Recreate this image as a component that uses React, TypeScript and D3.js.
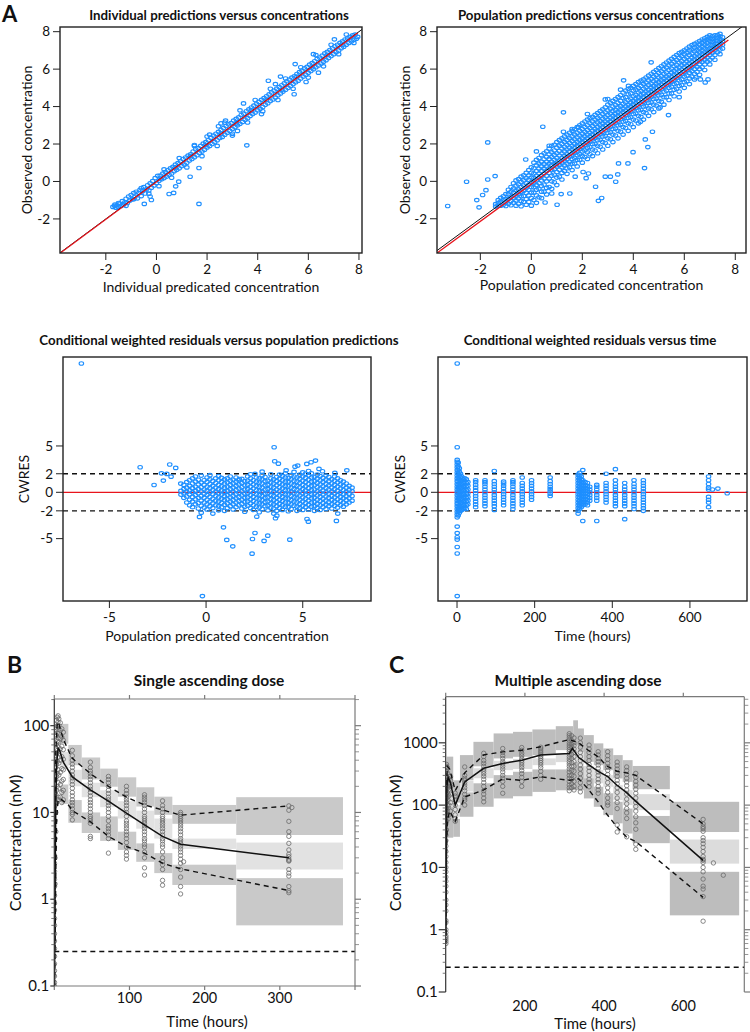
import React from 'react';
import * as d3 from 'd3';

type Pair = [number, number];
type Strip = [number, number[]];

// ---------------- DATA ----------------
// A1: individual predictions (x) vs observed (y)
const ipredVsDv: Pair[] = [
  [-1.72,-1.36],[-1.66,-1.3],[-1.6,-1.4],[-1.55,-1.27],[-1.5,-1.36],[-1.45,-1.18],[-1.4,-1.31],[-1.35,-1.05],[-1.3,-1.24],[-1.25,-1.12],
  [-1.2,-0.92],[-1.15,-1.15],[-1.1,-0.8],[-1.05,-1.02],[-1.0,-0.72],[-0.95,-0.95],[-0.9,-0.62],[-0.86,-0.84],[-0.8,-0.55],[-0.75,-0.9],
  [-0.7,-0.62],[-0.65,-0.45],[-0.6,-0.78],[-0.55,-0.52],[-0.5,-0.3],[-0.45,-0.64],[-0.4,-0.42],[-0.35,-0.2],[-0.3,-0.48],[-0.25,-0.1],
  [-0.2,-0.33],[-0.15,0.02],[-0.1,-0.22],[-0.05,0.18],[0,-0.08],[0.05,0.3],[0.1,0.04],[0.15,0.32],[0.2,0.12],[0.25,0.42],
  [0.3,0.18],[0.35,0.5],[0.4,0.26],[0.45,0.6],[0.5,0.36],[0.55,0.7],[0.6,0.42],[0.65,0.78],[0.7,0.55],[0.75,0.9],
  [0.8,0.62],[0.85,0.98],[0.9,0.7],[0.95,1.08],[1.0,0.82],[1.05,1.2],[1.1,0.9],[1.15,1.28],[1.2,1.0],[1.25,1.38],
  [1.3,1.12],[1.35,1.45],[1.4,1.2],[1.45,1.6],[1.5,1.3],[1.55,1.72],[1.6,1.4],[1.65,1.78],[1.7,1.52],[1.75,1.9],
  [1.8,1.6],[1.85,2.02],[1.9,1.7],[1.95,2.1],[2.0,1.82],[2.05,2.2],[2.1,1.9],[2.15,2.34],[2.2,2.0],[2.25,2.45],
  [2.3,2.1],[2.35,2.55],[2.4,2.2],[2.45,2.65],[2.5,2.32],[2.55,2.75],[2.6,2.38],[2.65,2.85],[2.7,2.5],[2.75,2.96],
  [2.8,2.6],[2.85,3.05],[2.9,2.7],[2.95,3.12],[3.0,2.8],[3.05,3.25],[3.1,2.9],[3.15,3.34],[3.2,3.0],[3.25,3.42],
  [3.3,3.08],[3.35,3.55],[3.4,3.18],[3.45,3.62],[3.5,3.3],[3.55,3.75],[3.6,3.38],[3.65,3.85],[3.7,3.5],[3.75,3.95],
  [3.8,3.6],[3.85,4.05],[3.9,3.68],[3.95,4.15],[4.0,3.8],[4.05,4.25],[4.1,3.88],[4.15,4.36],[4.2,3.98],[4.25,4.45],
  [4.3,4.1],[4.35,4.55],[4.4,4.18],[4.45,4.65],[4.5,4.3],[4.55,4.75],[4.6,4.38],[4.65,4.85],[4.7,4.48],[4.75,4.95],
  [4.8,4.6],[4.85,5.04],[4.9,4.7],[4.95,5.14],[5.0,4.8],[5.05,5.24],[5.1,4.9],[5.15,5.35],[5.2,5.0],[5.25,5.44],
  [5.3,5.1],[5.35,5.55],[5.4,5.2],[5.45,5.62],[5.5,5.3],[5.55,5.74],[5.6,5.38],[5.65,5.84],[5.7,5.5],[5.75,5.92],
  [5.8,5.6],[5.85,6.04],[5.9,5.7],[5.95,6.12],[6.0,5.8],[6.05,6.24],[6.1,5.9],[6.15,6.32],[6.2,6.0],[6.25,6.42],
  [6.3,6.1],[6.35,6.55],[6.4,6.2],[6.45,6.62],[6.5,6.3],[6.55,6.72],[6.6,6.4],[6.65,6.84],[6.7,6.48],[6.75,6.92],
  [6.8,6.6],[6.85,7.02],[6.9,6.7],[6.95,7.1],[7.0,6.8],[7.05,7.22],[7.1,6.9],[7.15,7.3],[7.2,7.0],[7.25,7.4],
  [7.3,7.12],[7.35,7.48],[7.4,7.2],[7.45,7.58],[7.5,7.3],[7.55,7.64],[7.6,7.4],[7.65,7.72],[7.7,7.48],[7.75,7.8],
  [7.8,7.56],[7.85,7.84],[7.9,7.62],[7.95,7.72],
  [-1.5,-1.15],[-1.2,-1.3],[-0.9,-0.95],[-0.6,-0.35],[-0.3,-0.65],[0.1,-0.25],[0.3,0.65],[0.6,0.2],[0.9,1.25],[1.2,0.75],
  [1.5,1.9],[1.8,1.35],[2.1,2.5],[2.4,1.9],[2.7,3.15],[3.0,2.55],[3.3,3.8],[3.6,3.15],[3.9,4.35],[4.2,3.75],
  [4.5,4.95],[4.8,4.35],[5.1,5.5],[5.4,4.95],[5.7,6.1],[6.0,5.55],[6.3,6.75],[6.6,6.15],[6.9,7.3],[7.2,6.8],
  [7.5,7.85],[7.8,7.4],[2.55,2.55],[3.15,3.1],[3.75,3.8],[4.35,4.35],[4.95,4.9],[5.55,5.6],[6.15,6.1],[6.75,6.75],
  [1.35,1.35],[0.75,0.75],[0.15,0.15],[1.95,1.95],[7.35,7.3],
];
const ipredOutliers: Pair[] = [
  [1.68,-1.2],[3.57,1.93],[1.33,0.25],[1.68,0.72],[0.88,-0.01],[0.76,-0.26],[0.5,-0.67],[0.68,-0.61],[-0.2,-0.99],[-0.48,-1.2],
  [-0.25,-0.8],[5.44,4.66],[6.4,5.81],[4.42,5.38],[5.48,6.27],[2.73,3.25],[3.44,4.17],[4.15,3.6],[5.91,5.31],[-1.64,-1.24],
  [2.45,2.95],[2.55,3.1],[3.0,2.45],[4.7,5.2],[6.2,6.8],[7.03,7.59],[4.9,5.6],[3.2,2.7],[1.5,1.95],[2.0,2.4],
];

// A2: population predictions (x) vs observed (y), by prediction strip
const predStrips: Strip[] = [
  [-1.4,[-1.35,-1.22]],
  [-1.2,[-1.3,-1.08,-0.88]],
  [-1.0,[-1.32,-1.12,-0.95,-0.68]],
  [-0.8,[-1.28,-1.05,-0.82,-0.55,-0.3]],
  [-0.6,[-1.3,-1.02,-0.75,-0.48,-0.22,0.05]],
  [-0.4,[-1.33,-1.05,-0.8,-0.56,-0.3,-0.04,0.25]],
  [-0.2,[-1.25,-0.95,-0.62,-0.35,-0.1,0.16,0.45]],
  [0.0,[-1.3,-0.9,-0.6,-0.3,-0.05,0.2,0.46,0.75]],
  [0.2,[-1.15,-0.75,-0.45,-0.2,0.05,0.3,0.55,0.85,1.15]],
  [0.4,[-0.9,-0.55,-0.25,0.05,0.3,0.55,0.8,1.05,1.4]],
  [0.6,[-0.7,-0.35,0.0,0.3,0.55,0.8,1.05,1.3,1.6]],
  [0.8,[-0.4,0.0,0.3,0.6,0.85,1.05,1.3,1.55,1.9]],
  [1.0,[-0.2,0.2,0.5,0.8,1.0,1.25,1.5,1.8,2.1]],
  [1.2,[0.1,0.45,0.75,1.0,1.25,1.5,1.75,2.0,2.3]],
  [1.4,[0.4,0.7,0.95,1.2,1.45,1.7,1.95,2.2,2.5]],
  [1.6,[0.6,0.95,1.2,1.45,1.7,1.9,2.15,2.4,2.7]],
  [1.8,[0.8,1.15,1.4,1.65,1.9,2.1,2.35,2.6,2.9]],
  [2.0,[1.0,1.35,1.6,1.85,2.1,2.3,2.55,2.8,3.1]],
  [2.2,[1.2,1.55,1.8,2.05,2.3,2.5,2.75,3.0,3.3]],
  [2.4,[1.35,1.7,2.0,2.25,2.5,2.7,2.95,3.2,3.45]],
  [2.6,[1.5,1.9,2.2,2.45,2.7,2.9,3.15,3.4,3.65]],
  [2.8,[1.7,2.1,2.4,2.65,2.9,3.1,3.35,3.6,3.85]],
  [3.0,[1.9,2.3,2.6,2.85,3.1,3.3,3.55,3.8,4.1]],
  [3.2,[2.1,2.5,2.8,3.05,3.3,3.5,3.75,4.0,4.3]],
  [3.4,[2.3,2.7,3.0,3.25,3.5,3.7,3.95,4.2,4.5]],
  [3.6,[2.5,2.9,3.2,3.45,3.7,3.9,4.15,4.45,4.75]],
  [3.8,[2.7,3.1,3.4,3.65,3.9,4.1,4.35,4.65,4.95]],
  [4.0,[2.9,3.3,3.6,3.85,4.1,4.3,4.55,4.85,5.1]],
  [4.2,[3.1,3.5,3.8,4.05,4.3,4.5,4.75,5.0,5.3]],
  [4.4,[3.3,3.7,4.0,4.25,4.5,4.7,4.95,5.2,5.45]],
  [4.6,[3.5,3.9,4.2,4.45,4.7,4.9,5.15,5.4,5.65]],
  [4.8,[3.7,4.1,4.4,4.65,4.9,5.1,5.35,5.6,5.85]],
  [5.0,[3.9,4.3,4.6,4.85,5.1,5.3,5.55,5.8,6.05]],
  [5.2,[4.1,4.5,4.8,5.05,5.3,5.5,5.75,6.0,6.25]],
  [5.4,[4.35,4.7,5.0,5.25,5.5,5.7,5.95,6.2,6.45]],
  [5.6,[4.55,4.9,5.2,5.45,5.7,5.9,6.15,6.4,6.65]],
  [5.8,[4.8,5.1,5.4,5.65,5.9,6.1,6.35,6.6,6.85]],
  [6.0,[5.0,5.3,5.6,5.85,6.1,6.3,6.55,6.8,7.0]],
  [6.2,[5.2,5.5,5.8,6.05,6.3,6.5,6.75,7.0,7.2]],
  [6.4,[5.45,5.75,6.0,6.25,6.5,6.7,6.95,7.15,7.35]],
  [6.6,[5.7,6.0,6.25,6.45,6.7,6.9,7.1,7.3,7.5]],
  [6.8,[5.95,6.25,6.5,6.7,6.9,7.1,7.3,7.5,7.65]],
  [7.0,[6.25,6.5,6.75,6.95,7.1,7.3,7.5,7.65,7.8]],
  [7.2,[6.5,6.75,7.0,7.2,7.35,7.5,7.65,7.8]],
  [7.4,[6.8,7.05,7.25,7.45,7.6,7.75,7.88]],
  [-1.3,[-1.3,-1.15,-1.0]],
  [-1.1,[-1.25,-1.0,-0.8]],
  [-0.9,[-1.2,-0.95,-0.7,-0.45]],
  [-0.7,[-1.15,-0.9,-0.62,-0.38,-0.1]],
  [-0.5,[-1.2,-0.92,-0.68,-0.42,-0.16,0.12]],
  [-0.3,[-1.1,-0.78,-0.5,-0.22,0.05,0.32]],
  [-0.1,[-1.1,-0.75,-0.45,-0.18,0.08,0.32,0.6]],
  [0.1,[-1.0,-0.6,-0.32,-0.08,0.18,0.42,0.7,1.0]],
  [0.3,[-0.85,-0.4,-0.1,0.18,0.42,0.68,0.95,1.25]],
  [0.5,[-0.55,-0.18,0.15,0.42,0.68,0.92,1.18,1.5]],
  [0.7,[-0.3,0.15,0.45,0.7,0.95,1.2,1.45,1.75]],
  [0.9,[-0.05,0.35,0.65,0.92,1.15,1.4,1.65,1.95]],
  [1.1,[0.25,0.62,0.88,1.12,1.38,1.62,1.9,2.2]],
  [1.3,[0.55,0.85,1.1,1.35,1.6,1.85,2.1,2.4]],
  [1.5,[0.75,1.05,1.32,1.58,1.8,2.05,2.3,2.6]],
  [1.7,[0.95,1.25,1.52,1.78,2.0,2.25,2.5,2.8]],
  [1.9,[1.15,1.45,1.72,1.98,2.2,2.45,2.7,3.0]],
  [2.1,[1.3,1.65,1.92,2.18,2.4,2.65,2.9,3.2]],
  [2.3,[1.45,1.82,2.12,2.38,2.6,2.85,3.1,3.38]],
  [2.5,[1.65,2.0,2.32,2.58,2.8,3.05,3.3,3.55]],
  [2.7,[1.85,2.22,2.52,2.78,3.0,3.22,3.48,3.75]],
  [2.9,[2.05,2.42,2.72,2.98,3.2,3.42,3.68,3.95]],
  [3.1,[2.25,2.62,2.92,3.18,3.4,3.62,3.88,4.2]],
  [3.3,[2.45,2.82,3.12,3.38,3.6,3.82,4.08,4.4]],
  [3.5,[2.65,3.02,3.32,3.58,3.8,4.02,4.3,4.6]],
  [3.7,[2.85,3.22,3.52,3.78,4.0,4.22,4.5,4.85]],
  [3.9,[3.05,3.42,3.72,3.98,4.2,4.42,4.7,5.0]],
  [4.1,[3.25,3.62,3.92,4.18,4.4,4.62,4.9,5.2]],
  [4.3,[3.45,3.82,4.12,4.38,4.6,4.82,5.1,5.38]],
  [4.5,[3.65,4.02,4.32,4.58,4.8,5.02,5.28,5.55]],
  [4.7,[3.85,4.22,4.52,4.78,5.0,5.22,5.48,5.75]],
  [4.9,[4.05,4.42,4.72,4.98,5.2,5.42,5.68,5.95]],
  [5.1,[4.25,4.62,4.92,5.18,5.4,5.62,5.88,6.15]],
  [5.3,[4.5,4.85,5.12,5.38,5.6,5.82,6.08,6.35]],
  [5.5,[4.7,5.05,5.32,5.58,5.8,6.02,6.28,6.55]],
  [5.7,[4.95,5.25,5.52,5.78,6.0,6.22,6.48,6.75]],
  [5.9,[5.15,5.45,5.72,5.98,6.2,6.42,6.68,6.92]],
  [6.1,[5.35,5.65,5.92,6.18,6.4,6.62,6.88,7.1]],
  [6.3,[5.6,5.88,6.12,6.38,6.6,6.82,7.05,7.28]],
  [6.5,[5.85,6.12,6.38,6.58,6.8,7.0,7.2,7.42]],
  [6.7,[6.1,6.38,6.6,6.8,7.0,7.2,7.4,7.58]],
  [6.9,[6.4,6.62,6.85,7.05,7.22,7.4,7.58,7.72]],
  [7.1,[6.62,6.88,7.1,7.28,7.45,7.6,7.75]],
  [7.3,[6.9,7.15,7.35,7.52,7.68,7.82]],
  [7.5,[7.1,7.3,7.5,7.7]],
];
const predOutliers: Pair[] = [
  [-3.28,-1.32],[-2.54,-0.02],[-1.71,2.08],[-1.71,0.1],[-1.42,0.28],[-1.78,-0.47],[-1.91,-0.73],[-2.14,-1.0],[-2.05,-1.39],[-0.22,1.17],
  [0.45,2.92],[1.26,3.69],[1.26,2.65],[1.85,2.9],[2.9,4.38],[3.62,5.4],[3.81,5.1],[4.7,6.36],[2.03,0.5],[2.24,0.42],
  [1.72,0.25],[2.15,0.17],[2.9,0.25],[3.1,0.25],[3.39,0.37],[3.31,-0.02],[3.42,0.96],[3.79,0.96],[4.44,0.71],[3.99,1.56],
  [4.57,1.83],[4.47,2.24],[2.52,-0.29],[2.76,-0.89],[2.63,-1.04],[0.54,-1.13],[1.01,-1.25],[1.17,-0.68],[0.8,-0.65],[1.51,-0.65],
  [6.63,5.45],[6.93,5.45],[6.82,5.29],[5.05,3.95],[5.38,3.54],[4.75,2.65],[4.28,3.19],[6.45,5.55],[5.8,4.5],[2.2,3.6],
  [1.6,2.8],[0.7,1.9],[0.2,1.6],[3.0,4.4],[3.5,4.9],
];

// A3: CWRES vs population predictions
const cwresPredStrips: Strip[] = [
  [-1.3,[-0.25,0.15]],
  [-1.15,[-0.6,-0.1,0.35,0.8]],
  [-1.0,[-1.1,-0.45,0.05,0.5,1.1]],
  [-0.85,[-1.4,-0.8,-0.25,0.2,0.7,1.3]],
  [-0.7,[-1.6,-1.0,-0.5,0.0,0.45,0.95,1.5]],
  [-0.55,[-1.3,-0.75,-0.3,0.15,0.6,1.15,1.7]],
  [-0.4,[-1.75,-1.15,-0.6,-0.1,0.35,0.85,1.35]],
  [-0.25,[-2.2,-1.45,-0.9,-0.4,0.1,0.55,1.05,1.8]],
  [-0.1,[-1.65,-1.1,-0.6,-0.15,0.3,0.8,1.3]],
  [0.05,[-1.85,-1.3,-0.8,-0.3,0.15,0.6,1.1,1.6]],
  [0.2,[-1.5,-1.0,-0.5,0.0,0.45,0.9,1.4,1.85]],
  [0.35,[-2.3,-1.7,-1.2,-0.7,-0.2,0.25,0.7,1.2]],
  [0.5,[-1.4,-0.9,-0.4,0.05,0.5,1.0,1.5]],
  [0.65,[-1.95,-1.5,-1.0,-0.55,-0.1,0.35,0.8,1.3,1.75]],
  [0.8,[-1.6,-1.15,-0.7,-0.25,0.2,0.65,1.1,1.55]],
  [0.95,[-2.0,-1.35,-0.85,-0.4,0.05,0.5,0.95,1.4]],
  [1.1,[-1.7,-1.2,-0.75,-0.3,0.15,0.6,1.05,1.5]],
  [1.25,[-1.5,-1.0,-0.55,-0.1,0.35,0.8,1.25,1.7]],
  [1.4,[-1.85,-1.3,-0.85,-0.4,0.05,0.5,0.95,1.35]],
  [1.55,[-1.6,-1.1,-0.65,-0.2,0.25,0.7,1.15,1.6]],
  [1.7,[-1.4,-0.95,-0.5,-0.05,0.4,0.85,1.3]],
  [1.85,[-1.75,-1.25,-0.8,-0.35,0.1,0.55,1.0,1.45]],
  [2.0,[-2.1,-1.55,-1.05,-0.6,-0.15,0.3,0.75,1.2]],
  [2.15,[-1.45,-1.0,-0.55,-0.1,0.35,0.8,1.25,1.7]],
  [2.3,[-1.7,-1.2,-0.75,-0.3,0.15,0.6,1.05,1.5,1.95]],
  [2.45,[-1.9,-1.4,-0.95,-0.5,-0.05,0.4,0.85,1.3]],
  [2.6,[-1.55,-1.1,-0.65,-0.2,0.25,0.7,1.15,1.6]],
  [2.75,[-2.15,-1.65,-1.2,-0.75,-0.3,0.15,0.6,1.05,1.5]],
  [2.9,[-1.8,-1.3,-0.85,-0.4,0.05,0.5,0.95,1.4,1.85]],
  [3.05,[-1.5,-1.05,-0.6,-0.15,0.3,0.75,1.2,1.65]],
  [3.2,[-1.95,-1.45,-1.0,-0.55,-0.1,0.35,0.8,1.25]],
  [3.35,[-1.65,-1.2,-0.75,-0.3,0.15,0.6,1.05,1.5,1.95]],
  [3.5,[-2.3,-1.75,-1.3,-0.85,-0.4,0.05,0.5,0.95,1.4]],
  [3.65,[-2.0,-1.5,-1.05,-0.6,-0.15,0.3,0.75,1.2,1.65]],
  [3.8,[-1.7,-1.25,-0.8,-0.35,0.1,0.55,1.0,1.45,1.9]],
  [3.95,[-1.9,-1.4,-0.95,-0.5,-0.05,0.4,0.85,1.3,1.75]],
  [4.1,[-1.55,-1.1,-0.65,-0.2,0.25,0.7,1.15,1.6,2.05]],
  [4.25,[-2.05,-1.6,-1.15,-0.7,-0.25,0.2,0.65,1.1,1.55]],
  [4.4,[-1.8,-1.3,-0.85,-0.4,0.05,0.5,0.95,1.4,1.85]],
  [4.55,[-1.45,-1.0,-0.55,-0.1,0.35,0.8,1.25,1.7,2.2]],
  [4.7,[-2.0,-1.55,-1.1,-0.65,-0.2,0.25,0.7,1.15,1.6]],
  [4.85,[-1.7,-1.25,-0.8,-0.35,0.1,0.55,1.0,1.45,1.9]],
  [5.0,[-1.9,-1.45,-1.0,-0.55,-0.1,0.35,0.8,1.25,1.7,2.15]],
  [5.15,[-1.6,-1.15,-0.7,-0.25,0.2,0.65,1.1,1.55,2.0]],
  [5.3,[-1.85,-1.35,-0.9,-0.45,0.0,0.45,0.9,1.35,1.8,2.3]],
  [5.45,[-1.55,-1.1,-0.65,-0.2,0.25,0.7,1.15,1.6,2.05]],
  [5.6,[-2.0,-1.5,-1.05,-0.6,-0.15,0.3,0.75,1.2,1.65]],
  [5.75,[-1.7,-1.25,-0.8,-0.35,0.1,0.55,1.0,1.45,1.9]],
  [5.9,[-1.9,-1.4,-0.95,-0.5,-0.05,0.4,0.85,1.3,1.75]],
  [6.05,[-1.6,-1.15,-0.7,-0.25,0.2,0.65,1.1,1.55]],
  [6.2,[-1.8,-1.35,-0.9,-0.45,0.0,0.45,0.9,1.35,1.8]],
  [6.35,[-1.5,-1.05,-0.6,-0.15,0.3,0.75,1.2,1.65]],
  [6.5,[-1.75,-1.3,-0.85,-0.4,0.05,0.5,0.95,1.4]],
  [6.65,[-1.45,-1.0,-0.55,-0.1,0.35,0.8,1.25,1.7]],
  [6.8,[-1.65,-1.2,-0.75,-0.3,0.15,0.6,1.05,1.5]],
  [6.95,[-1.4,-0.95,-0.5,-0.05,0.4,0.85,1.3]],
  [7.1,[-1.55,-1.1,-0.65,-0.2,0.25,0.7,1.15]],
  [7.25,[-1.3,-0.85,-0.4,0.05,0.5,0.95]],
  [7.4,[-1.1,-0.65,-0.2,0.25,0.7]],
  [7.55,[-0.9,-0.4,0.1,0.5]],
];
const cwresPredOutliers: Pair[] = [
  [-6.45,13.9],[-0.19,-11.2],[-3.41,2.7],[-2.69,0.79],[-2.31,2.05],[-2.21,1.26],[-1.88,3.0],[-1.57,2.63],[-2.03,1.98],[-1.81,1.69],
  [-1.31,0.94],[-0.34,-2.66],[0.9,-3.78],[1.07,-5.14],[1.38,-5.83],[2.38,-6.62],[2.4,-5.04],[2.53,-4.39],[3.0,-5.25],[3.19,-4.68],
  [4.33,-5.11],[3.52,4.86],[3.55,3.35],[3.74,3.09],[4.74,2.88],[5.21,3.06],[5.43,3.24],[5.66,3.42],[5.84,2.52],[6.02,2.27],
  [6.66,2.09],[7.28,2.37],[5.22,-2.88],[5.29,-3.17],[6.74,-3.09],[6.81,-2.3],[2.62,-2.63],[3.59,-2.8],[3.66,-2.52],[2.9,2.23],
  [2.53,1.98],[1.72,1.44],[4.14,2.37],[4.6,2.77],
];

// A4: CWRES vs time (hours)
const cwresTime: Strip[] = [
  [0.5,[-11.2,-6.6,-5.9,-5.1,-4.85,-4.4,-3.7,-2.7,-2.4,-2.1,-1.8,-1.5,-1.2,-0.9,-0.6,-0.3,0,0.3,0.6,0.9,1.2,1.5,1.8,2.1,2.4,2.7,3.0,3.3,3.5,4.86,13.9]],
  [3,[-2.5,-2.0,-1.6,-1.2,-0.8,-0.4,0,0.4,0.8,1.2,1.6,2.0,2.4,2.8,3.2]],
  [6,[-2.2,-1.8,-1.4,-1.0,-0.6,-0.2,0.2,0.6,1.0,1.4,1.8,2.2,2.6]],
  [9,[-2.0,-1.6,-1.2,-0.8,-0.4,0,0.4,0.8,1.2,1.6,2.0]],
  [12,[-1.9,-1.5,-1.1,-0.7,-0.3,0.1,0.5,0.9,1.3,1.7]],
  [16,[-1.8,-1.4,-1.0,-0.6,-0.2,0.2,0.6,1.0,1.4]],
  [20,[-1.7,-1.3,-0.9,-0.5,-0.1,0.3,0.7,1.1,1.5]],
  [24,[-1.8,-1.4,-1.0,-0.6,-0.2,0.2,0.6,1.0,1.4]],
  [28,[-1.3,-0.9,-0.5,-0.1,0.3,0.7,1.1]],
  [48,[-1.6,-1.3,-1.0,-0.7,-0.4,-0.1,0.2,0.5,0.8,1.1,1.3]],
  [72,[-1.5,-1.2,-0.9,-0.6,-0.3,0,0.3,0.6,0.9,1.1,1.3]],
  [96,[-1.9,-1.5,-1.2,-0.9,-0.6,-0.3,0,0.3,0.6,0.9,1.2,2.3]],
  [120,[-1.4,-1.1,-0.8,-0.5,-0.2,0.1,0.4,0.7,0.95,1.15]],
  [144,[-1.8,-1.5,-1.2,-0.9,-0.6,-0.3,0,0.3,0.6,0.9,1.1,1.3]],
  [168,[-1.4,-1.1,-0.8,-0.5,-0.2,0.1,0.4,0.7,1.0,1.6]],
  [192,[-0.8,-0.5,-0.2,0.1,0.4,0.7,1.0,1.3]],
  [240,[-0.4,-0.15,0.1,0.35,0.6,0.9,1.2,1.6]],
  [312,[-2.3,-2.0,-1.7,-1.4,-1.1,-0.8,-0.5,-0.2,0.1,0.4,0.7,1.0,1.3,1.6,1.9]],
  [316,[-1.8,-1.5,-1.2,-0.9,-0.6,-0.3,0,0.3,0.6,0.9,1.2,1.5,1.8,2.1]],
  [320,[-1.6,-1.3,-1.0,-0.7,-0.4,-0.1,0.2,0.5,0.8,1.1,1.4,1.7]],
  [324,[-3.1,-1.4,-1.1,-0.8,-0.5,-0.2,0.1,0.4,0.7,1.0,1.3,2.4]],
  [330,[-1.3,-1.0,-0.7,-0.4,-0.1,0.2,0.5,0.8,1.1]],
  [336,[-1.4,-1.1,-0.8,-0.5,-0.2,0.1,0.4,0.7,1.0]],
  [342,[-0.9,-0.6,-0.3,0,0.3,0.6]],
  [360,[-3.1,-0.9,-0.6,-0.3,0,0.3,0.6,0.8]],
  [384,[-1.1,-0.8,-0.5,-0.2,0.1,0.4,0.7,1.0,2.0]],
  [408,[-1.5,-1.2,-0.9,-0.6,-0.3,0,0.3,0.6,0.9,1.3,2.5]],
  [432,[-2.9,-1.5,-1.2,-0.9,-0.6,-0.3,0,0.3,0.6,1.0]],
  [456,[-1.8,-1.5,-1.2,-0.9,-0.6,-0.3,0,0.3,0.6,0.9,1.3]],
  [480,[-2.0,-1.7,-1.4,-1.1,-0.8,-0.5,-0.2,0.1,0.4,0.7,1.0,1.3]],
  [648,[-1.6,-1.1,-0.8,-0.5,0.3,0.5,0.9,1.3,1.7]],
  [658,[0.3]],
  [672,[0.4]],
  [696,[-0.1]],
];

// B: single ascending dose VPC (time h, concentration nM)
const sadObs: Strip[] = [
  [0.3,[0.1,0.11,0.13,0.15,0.18,0.22,0.27,0.33,0.4,0.5,0.6,0.75,0.9,1.1,1.4,1.7,2.1,2.6,3.2,4,5,6.3,8,10]],
  [1,[1.5,3,5,8,12,17,24,33,45]],
  [2,[6,10,16,24,33,45,60,75,90]],
  [3,[13,18,26,36,48,62,78,95,115]],
  [4,[14,20,28,39,52,66,82,100,125]],
  [5,[15,22,31,43,57,72,90,110,130]],
  [6,[14,19,27,37,50,65,82,100,120]],
  [8,[15,21,29,40,54,70,88,108]],
  [10,[13,17,23,32,44,58,74,92]],
  [12,[14,18,24,31,41,53,68,84]],
  [24,[52,45,40,36,33,30,27,25,23,21,19,17,15.5,14,13,12,11,10,9.5,8.2]],
  [48,[38,33,30,28,26,24,22,20,18.5,17,15.5,14,13,12,11,10,9,8.5,8,7.5,5.3,5]],
  [72,[26,24,22,20,18,16.5,15,14,13,12,11,10,9,8,7,6.5,6,5.5,5,3.4]],
  [96,[20,18,16.5,15,14,13,12,11,10,9,8,7.5,7,6.5,6,5.5,5,4.5,4,3.5,3.2,2.9]],
  [120,[16,15,14,13,12,11,10,9,8.5,8,7.5,7,6.5,6,5.5,5,4.7,4.3,4,3.5,3,2.3,1.9]],
  [144,[13.6,12,11,10,9,8.5,8,7.5,7,6.5,6,5.5,5,4.7,4.3,4,3.5,3,2.7,2.5,2.2,1.65,1.45]],
  [168,[10,9.5,9,8.5,8,7.5,7,6.5,6,5.5,5,4.7,4.4,4.1,3.8,3.5,3.2,2.9,2.6,2.2,1.8,1.4,1.15]],
  [172,[2.7]],
  [312,[11.9,10.6,7.9,6.0,5.3,4.4,3.7,3.3,3.1,2.9,2.8,2.75,2.2,2.0,1.85,1.4,1.25,1.19]],
  [316,[11.4]],
];
const sadMedian: Pair[] = [[0.3,0.1],[1,1.5],[2,12],[3,35],[5,55],[7,52],[12,38],[24,25.7],[48,18.2],[72,13.5],[96,9.8],[120,7.2],[144,5.3],[168,4.3],[312,3.0]];
const sadP95: Pair[] = [[0.3,0.3],[1,10],[2,50],[4,110],[6,105],[12,70],[18.7,52],[24,42],[48,28],[72,20],[96,15],[120,12.2],[144,10.7],[168,9.3],[312,11.9]];
const sadP05: Pair[] = [[0.3,0.1],[1,0.3],[2,2],[3,8],[5,14],[10,14],[18.7,12.2],[24,10.5],[48,7.8],[72,5.3],[96,4.05],[120,3.4],[144,2.6],[168,2.24],[312,1.26]];
// bins: [t0, t1, upper lo, upper hi, median lo, median hi, lower lo, lower hi]
const sadBins: number[][] = [
  [8.5,18.7,62,105,32,50,12.5,21],
  [18.7,36.5,35,60,20,31,7.6,13.9],
  [36.5,61,24,43,15,22,5.8,10],
  [61,84.5,19.8,32,11.5,18,4.7,9],
  [84.5,109,15.2,25.4,8.5,13.5,3.7,6],
  [109,133,11.7,19.5,6.5,10.5,2.7,4.4],
  [133,157,9.4,15.2,5,8.5,2.0,3.4],
  [157,242,7.4,12.2,3.8,5.0,1.46,2.5],
  [242,384,5.5,15,2.2,4.5,0.5,1.75],
];

// C: multiple ascending dose VPC
const madObs: Strip[] = [
  [0.5,[0.6,0.65,0.7,0.75,0.8,0.9,1.0,1.3,1.4,2,2.5,3,4,5,6,7,8.5,10,12,15,18,22,27,33,40,50,60,75,90]],
  [2,[40,55,70,90,110,130,150,180,210,250,290,350,420,450]],
  [4,[80,100,130,160,200,240,280,330,400]],
  [6,[60,90,120,150,190,230,270]],
  [8,[70,100,140,180,220,260]],
  [12,[80,110,150,200,250,290]],
  [24,[55,60,70,85,100,120,140,155]],
  [48,[410,300,270,250,230,210,190,170,150,130,120,100]],
  [96,[680,600,520,470,420,380,350,320,290,260,230,200,170,150,130,113]],
  [144,[810,700,620,560,500,460,420,380,340,300,270,240,200,155]],
  [192,[840,760,680,620,560,520,480,440,400,360,320,280,240,200]],
  [240,[850,800,740,690,640,600,560,520,480,440,400,350,300,260]],
  [312,[1400,1300,1200,1100,1000,920,850,780,720,660,600,550,500,460,420,380,340,300,270,240,210,190,170]],
  [318,[1300,1100,950,850,750,650,560,480,420,360,300,260,220,190]],
  [324,[1200,1000,900,800,700,600,500,420,350,290,240,200,175]],
  [340,[1190,1000,850,700,600,520,440,380,320,270,230,190,163]],
  [362,[920,800,700,600,520,450,400,350,300,260,230,197]],
  [385,[720,640,560,500,440,390,340,300,260,230,200,175,155]],
  [409,[720,620,540,470,410,360,310,270,230,190,160,130,110,100]],
  [433,[490,430,380,330,290,250,220,190,160,130,110,88,48,37]],
  [457,[410,360,310,270,235,205,175,150,125,105,88,75,61,31]],
  [480,[323,280,240,210,180,155,130,110,95,80,65,52,41,23.6,19.5]],
  [650,[59,50,45,42,38,30,27,24,21,18,15,13.5,13,12,10,8.5,6.5,5,4.5,3.4,1.37]],
  [676,[11.8]],
  [701,[7.5]],
];
const madMedian: Pair[] = [[0.5,0.8],[1.5,20],[3,200],[6,280],[12,230],[24,100],[48,236],[96,390],[144,467],[192,527],[240,635],[312,675],[320,813],[336,580],[360,450],[384,350],[408,290],[432,210],[456,160],[480,115],[650,13]];
const madP95: Pair[] = [[0.5,2],[2,200],[4,420],[10,380],[24,170],[48,330],[96,640],[144,716],[192,760],[240,863],[312,1130],[336,1000],[360,760],[384,600],[408,420],[432,350],[456,330],[480,300],[650,50]];
const madP05: Pair[] = [[0.5,0.6],[2,15],[4,55],[10,80],[24,55],[48,135],[96,175],[144,265],[192,250],[240,285],[312,250],[336,265],[360,180],[384,115],[408,70],[432,45],[456,31],[480,26],[650,3.3]];
const madBins: number[][] = [
  [2.5,19,180,600,100,170,30,95],
  [19,36,110,250,65,100,31,60],
  [36,70,250,635,165,245,65,160],
  [70,121,420,1037,270,390,94,224],
  [121,170,562,1415,364,514,128,303],
  [170,219,596,1500,380,550,139,343],
  [219,278,635,1640,438,562,163,374],
  [278,322,763,1850,490,675,173,374],
  [322,334,900,2300,520,880,174,500],
  [334,349,700,1700,430,680,173,420],
  [349,374,495,1330,252,424,128,268],
  [374,398,438,980,224,364,94,197],
  [398,423,364,813,197,303,69,155],
  [423,447,268,635,120,209,51,113],
  [447,472,236,527,100,174,35,88],
  [472,566,180,425,83,150,24.5,67],
  [566,741,37,113,11.5,28,1.7,8.5],
];
const LLOQ = 0.25;

const concTicksA = [-2, 0, 2, 4, 6, 8];
const cwresTicks = [5, 2, 0, -2, -5];
const predTicksCwres = [-5, 0, 5];
const timeTicksA = [0, 200, 400, 600];
const sadTimeLabels = [100, 200, 300];
const sadTimeTicks = [0, 100, 200, 300, 400];
const madTimeLabels = [200, 400, 600];
const madTimeTicks = [0, 200, 400, 600];
const sadConcTicks = [0.1, 1, 10, 100];
const madConcTicks = [0.1, 1, 10, 100, 1000];

// ---------------- STYLE ----------------
const FONT = "Lato, 'Open Sans', sans-serif";
const BLUE = '#1e8fff';
const OBS_GREY = '#6a6a6a';
const AXIS_GREY = '#7a7a7a';

const flat = (s: Strip[]): Pair[] => s.flatMap(([x, ys]) => ys.map((y) => [x, y] as Pair));

type Box = { l: number; t: number; r: number; b: number };

function Rings({ pts, xs, ys }: { pts: Pair[]; xs: any; ys: any }) {
  return (
    <g fill="none" stroke={BLUE} strokeWidth={1.15}>
      {pts.map(([x, y], i) => (
        <ellipse key={i} cx={xs(x)} cy={ys(y)} rx={2.25} ry={1.75} />
      ))}
    </g>
  );
}

function FrameA(props: {
  box: Box; xs: any; ys: any; xTicks: number[]; yTicks: number[]; id: string;
  title: string; titleX: number; titleY: number; xLabel: string; yLabel: string;
  xLabelY: number; yLabelX: number; children?: any;
}) {
  const { box, xs, ys, xTicks, yTicks, id } = props;
  return (
    <g>
      <text x={props.titleX} y={props.titleY} textAnchor="middle" fontWeight="bold" fontSize={13.3}>{props.title}</text>
      <defs>
        <clipPath id={id}><rect x={box.l} y={box.t} width={box.r - box.l} height={box.b - box.t} /></clipPath>
      </defs>
      <g clipPath={`url(#${id})`}>{props.children}</g>
      <rect x={box.l} y={box.t} width={box.r - box.l} height={box.b - box.t} fill="none" stroke="#222" strokeWidth={1.4} />
      {xTicks.map((v) => (
        <g key={'x' + v}>
          <line x1={xs(v)} x2={xs(v)} y1={box.b} y2={box.b + 7} stroke="#222" strokeWidth={1} />
          <text x={xs(v)} y={box.b + 20.5} textAnchor="middle" fontSize={13.5}>{String(v)}</text>
        </g>
      ))}
      {yTicks.map((v) => (
        <g key={'y' + v}>
          <line x1={box.l - 7} x2={box.l} y1={ys(v)} y2={ys(v)} stroke="#222" strokeWidth={1} />
          <text x={box.l - 10} y={ys(v) + 4.8} textAnchor="end" fontSize={13.5}>{String(v)}</text>
        </g>
      ))}
      <text x={(box.l + box.r) / 2} y={props.xLabelY} textAnchor="middle" fontSize={14}>{props.xLabel}</text>
      <text transform={`translate(${props.yLabelX},${(box.t + box.b) / 2}) rotate(-90)`} textAnchor="middle" fontSize={14}>{props.yLabel}</text>
    </g>
  );
}

function logMinors(lo: number, hi: number): number[] {
  const out: number[] = [];
  for (let e = Math.floor(Math.log10(lo)); e <= Math.ceil(Math.log10(hi)); e++) {
    for (let m = 2; m <= 9; m++) {
      const v = m * Math.pow(10, e);
      if (v > lo && v < hi) out.push(v);
    }
  }
  return out;
}

function Vpc(props: {
  box: Box; xs: any; ys: any; id: string; bins: number[][]; obs: Strip[];
  med: Pair[]; p95: Pair[]; p05: Pair[]; dark: string; light: string;
  xLabels: number[]; topTicks: number[]; yTicks: number[]; bottomAxis: boolean;
  xLabelY: number; title: string; titleX: number; letter: string; letterX: number;
  yLabelX: number; xTitleX: number; xTitleY: number; yTickLen: number;
}) {
  const { box, xs, ys, id } = props;
  const line = d3.line<Pair>().x((d) => xs(d[0])).y((d) => ys(d[1]));
  const minors = logMinors(ys.domain()[0], ys.domain()[1]);
  const pts = flat(props.obs);
  return (
    <g>
      <text x={props.letterX} y={673} fontWeight="bold" fontSize={23}>{props.letter}</text>
      <text x={props.titleX} y={686} textAnchor="middle" fontWeight="bold" fontSize={15.5}>{props.title}</text>
      <defs>
        <clipPath id={id}><rect x={box.l} y={box.t} width={box.r - box.l} height={box.b - box.t} /></clipPath>
      </defs>
      <g clipPath={`url(#${id})`}>
        {props.bins.map((b, i) => (
          <g key={i}>
            <rect x={xs(b[0])} width={xs(b[1]) - xs(b[0])} y={ys(b[3])} height={ys(b[2]) - ys(b[3])} fill={props.dark} />
            <rect x={xs(b[0])} width={xs(b[1]) - xs(b[0])} y={ys(b[5])} height={ys(b[4]) - ys(b[5])} fill={props.light} />
            <rect x={xs(b[0])} width={xs(b[1]) - xs(b[0])} y={ys(b[7])} height={ys(b[6]) - ys(b[7])} fill={props.dark} />
          </g>
        ))}
        <g fill="none" stroke={OBS_GREY} strokeWidth={0.8}>
          {pts.map(([t, c], i) => (
            <circle key={i} cx={xs(t)} cy={ys(c)} r={2.2} />
          ))}
        </g>
        <path d={line(props.med) || ''} fill="none" stroke="#111" strokeWidth={1.5} />
        <path d={line(props.p95) || ''} fill="none" stroke="#111" strokeWidth={1.4} strokeDasharray="5,4" />
        <path d={line(props.p05) || ''} fill="none" stroke="#111" strokeWidth={1.4} strokeDasharray="5,4" />
      </g>
      <line x1={box.l} x2={box.r} y1={ys(LLOQ)} y2={ys(LLOQ)} stroke="#111" strokeWidth={1.5} strokeDasharray="5,4" />
      <g stroke={AXIS_GREY} strokeWidth={1.2}>
        <line x1={box.l} x2={box.l} y1={box.t} y2={box.b} stroke="#333" />
        <line x1={box.l} x2={box.r} y1={box.t} y2={box.t} />
        <line x1={box.r} x2={box.r} y1={box.t} y2={box.b} />
        {props.bottomAxis && <line x1={box.l} x2={box.r} y1={box.b} y2={box.b} />}
        {props.topTicks.map((v) => (
          <line key={'tt' + v} x1={xs(v)} x2={xs(v)} y1={box.t - 4} y2={box.t} />
        ))}
        {props.bottomAxis && props.topTicks.map((v) => (
          <line key={'bt' + v} x1={xs(v)} x2={xs(v)} y1={box.b} y2={box.b + 4} />
        ))}
        {props.yTicks.map((v) => (
          <g key={'yt' + v}>
            <line x1={box.l - props.yTickLen} x2={box.l} y1={ys(v)} y2={ys(v)} stroke="#333" />
            <line x1={box.r} x2={box.r + 6} y1={ys(v)} y2={ys(v)} />
          </g>
        ))}
        {minors.map((v) => (
          <g key={'mn' + v}>
            <line x1={box.l - 3} x2={box.l} y1={ys(v)} y2={ys(v)} stroke="#555" strokeWidth={0.8} />
            <line x1={box.r} x2={box.r + 4} y1={ys(v)} y2={ys(v)} strokeWidth={0.8} />
          </g>
        ))}
      </g>
      {props.yTicks.map((v) => (
        <text key={'yl' + v} x={box.l - props.yTickLen - 1} y={ys(v) + 5.2} textAnchor="end" fontSize={15}>{String(v)}</text>
      ))}
      {props.xLabels.map((v) => (
        <text key={'xl' + v} x={xs(v)} y={props.xLabelY} textAnchor="middle" fontSize={14.5}>{String(v)}</text>
      ))}
      <text x={props.xTitleX} y={props.xTitleY} textAnchor="middle" fontSize={15}>Time (hours)</text>
      <text transform={`translate(${props.yLabelX},843) rotate(-90)`} textAnchor="middle" fontSize={16}>Concentration (nM)</text>
    </g>
  );
}

export default function App() {
  const b1: Box = { l: 60, t: 27, r: 362, b: 253 };
  const x1 = d3.scaleLinear().domain([-3.81, 8.12]).range([b1.l, b1.r]);
  const y1 = d3.scaleLinear().domain([-3.82, 8.25]).range([b1.b, b1.t]);
  const b2: Box = { l: 437, t: 27, r: 746, b: 253 };
  const x2 = d3.scaleLinear().domain([-3.7, 8.42]).range([b2.l, b2.r]);
  const y2 = d3.scaleLinear().domain([-3.83, 8.25]).range([b2.b, b2.t]);
  const b3: Box = { l: 63, t: 357, r: 371, b: 601 };
  const x3 = d3.scaleLinear().domain([-7.4, 8.53]).range([b3.l, b3.r]);
  const y3 = d3.scaleLinear().domain([-11.73, 14.6]).range([b3.b, b3.t]);
  const b4: Box = { l: 438, t: 357, r: 747, b: 601 };
  const x4 = d3.scaleLinear().domain([-49, 747]).range([b4.l, b4.r]);
  const y4 = d3.scaleLinear().domain([-11.73, 14.6]).range([b4.b, b4.t]);
  const bB: Box = { l: 54.3, t: 699, r: 355, b: 986 };
  const xB = d3.scaleLinear().domain([0, 400]).range([bB.l, bB.r]);
  const yB = d3.scaleLog().domain([0.1, 203]).range([bB.b, bB.t]);
  const bC: Box = { l: 445.7, t: 696.7, r: 744.3, b: 992 };
  const xC = d3.scaleLinear().domain([0, 754]).range([bC.l, bC.r]);
  const yC = d3.scaleLog().domain([0.1, 5500]).range([bC.b, bC.t]);

  const resLines = (ys: any, box: Box) => (
    <g>
      <line x1={box.l} x2={box.r} y1={ys(2)} y2={ys(2)} stroke="#111" strokeWidth={1.3} strokeDasharray="5,4" />
      <line x1={box.l} x2={box.r} y1={ys(-2)} y2={ys(-2)} stroke="#111" strokeWidth={1.3} strokeDasharray="5,4" />
      <line x1={box.l} x2={box.r} y1={ys(0)} y2={ys(0)} stroke="#e8141c" strokeWidth={1.3} />
    </g>
  );

  return (
    <svg width={750} height={1032} style={{ position: 'absolute', left: 0, top: 0, background: '#fff' }} fontFamily={FONT} fill="#111">
      <rect x={0} y={0} width={750} height={1032} fill="#fff" />
      <text x={2} y={22} fontWeight="bold" fontSize={22}>A</text>

      <FrameA box={b1} xs={x1} ys={y1} xTicks={concTicksA} yTicks={concTicksA} id="c1"
        title="Individual predictions versus concentrations" titleX={219} titleY={19.5}
        xLabel="Individual predicated concentration" yLabel="Observed concentration" xLabelY={292} yLabelX={32}>
        <Rings pts={ipredVsDv.concat(ipredOutliers)} xs={x1} ys={y1} />
        <line x1={x1(-3.81)} y1={y1(-3.81)} x2={x1(8.12)} y2={y1(8.12)} stroke="#111" strokeWidth={1} />
        <line x1={x1(-3.81)} y1={y1(-3.83)} x2={x1(7.95)} y2={y1(7.93)} stroke="#e8141c" strokeWidth={1.3} />
      </FrameA>

      <FrameA box={b2} xs={x2} ys={y2} xTicks={concTicksA} yTicks={concTicksA} id="c2"
        title="Population predictions versus concentrations" titleX={591} titleY={19.5}
        xLabel="Population predicated concentration" yLabel="Observed concentration" xLabelY={290} yLabelX={410}>
        <Rings pts={flat(predStrips).concat(predOutliers)} xs={x2} ys={y2} />
        <line x1={x2(-3.7)} y1={y2(-3.7)} x2={x2(8.42)} y2={y2(8.42)} stroke="#111" strokeWidth={1} />
        <line x1={x2(-3.7)} y1={y2(-3.83)} x2={x2(7.73)} y2={y2(7.56)} stroke="#e8141c" strokeWidth={1.3} />
      </FrameA>

      <FrameA box={b3} xs={x3} ys={y3} xTicks={predTicksCwres} yTicks={cwresTicks} id="c3"
        title="Conditional weighted residuals versus population predictions" titleX={219} titleY={344.5}
        xLabel="Population predicated concentration" yLabel="CWRES" xLabelY={641} yLabelX={29}>
        {resLines(y3, b3)}
        <Rings pts={flat(cwresPredStrips).concat(cwresPredOutliers)} xs={x3} ys={y3} />
      </FrameA>

      <FrameA box={b4} xs={x4} ys={y4} xTicks={timeTicksA} yTicks={cwresTicks} id="c4"
        title="Conditional weighted residuals versus time" titleX={590} titleY={344.5}
        xLabel="Time (hours)" yLabel="CWRES" xLabelY={641} yLabelX={405}>
        {resLines(y4, b4)}
        <Rings pts={flat(cwresTime)} xs={x4} ys={y4} />
      </FrameA>

      <Vpc box={bB} xs={xB} ys={yB} id="cB" bins={sadBins} obs={sadObs} med={sadMedian} p95={sadP95} p05={sadP05}
        dark="#c9c9c9" light="#e2e2e2" xLabels={sadTimeLabels} topTicks={sadTimeTicks} yTicks={sadConcTicks}
        bottomAxis={true} xLabelY={1003} title="Single ascending dose" titleX={209} letter="B" letterX={7}
        yLabelX={20.5} xTitleX={207} xTitleY={1027} yTickLen={4} />

      <Vpc box={bC} xs={xC} ys={yC} id="cC" bins={madBins} obs={madObs} med={madMedian} p95={madP95} p05={madP05}
        dark="#bdbdbd" light="#dcdcdc" xLabels={madTimeLabels} topTicks={madTimeTicks} yTicks={madConcTicks}
        bottomAxis={false} xLabelY={1010.5} title="Multiple ascending dose" titleX={578} letter="C" letterX={389}
        yLabelX={400.5} xTitleX={595} xTitleY={1028.5} yTickLen={7} />
    </svg>
  );
}
